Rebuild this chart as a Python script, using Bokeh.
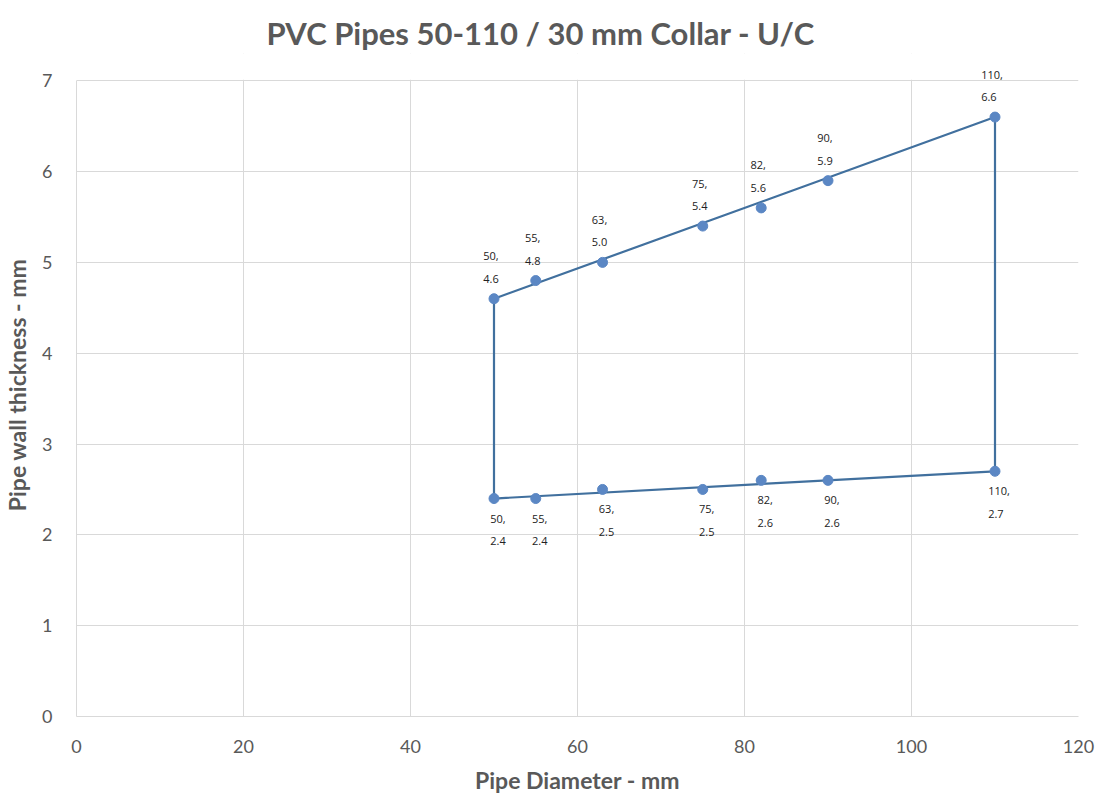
from bokeh.plotting import figure
from bokeh.models import ColumnDataSource, Range1d, FixedTicker, Title, LabelSet, BoxAnnotation
from bokeh.core.properties import value
from bokeh.embed import file_html
from bokeh.resources import INLINE

# Data
diameters = [50, 55, 63, 75, 82, 90, 110]
upper_thickness = [4.6, 4.8, 5.0, 5.4, 5.6, 5.9, 6.6]
lower_thickness = [2.4, 2.4, 2.5, 2.5, 2.6, 2.6, 2.7]
boundary_x = [50, 50, 110, 110, 50]
boundary_y = [2.4, 4.6, 6.6, 2.7, 2.4]
x_ticks = [0, 20, 40, 60, 80, 100, 120]
y_ticks = [0, 1, 2, 3, 4, 5, 6, 7]

FONT = "Lato"
GRAY = "#595959"
Y_MAX = y_ticks[-1]
HEADROOM = 0.3  # room above the axis so the top data label is not clipped

p = figure(
    output_backend="svg", toolbar_location=None,
    frame_width=1002, frame_height=663,
    min_border_left=68, min_border_right=18, min_border_top=53, min_border_bottom=65,
    x_range=Range1d(0, 120), y_range=Range1d(0, Y_MAX + HEADROOM),
    background_fill_color="white", border_fill_color="white",
    outline_line_color=None,
)

t = Title(text="PVC Pipes 50-110 / 30 mm Collar - U/C", align="left",
          text_font=FONT, text_font_size="31px", text_color=GRAY,
          text_font_style="bold", offset=190, standoff=4)
p.add_layout(t, "above")

for ax in (p.xaxis[0], p.yaxis[0]):
    ax.axis_line_color = "#D9D9D9"
    ax.major_tick_line_color = None
    ax.minor_tick_line_color = None
    ax.major_label_text_font = FONT
    ax.major_label_text_font_size = "18px"
    ax.major_label_text_color = GRAY
    ax.axis_label_text_font = FONT
    ax.axis_label_text_font_size = "23px"
    ax.axis_label_text_font_style = "bold"
    ax.axis_label_text_color = GRAY

p.yaxis.bounds = (0, Y_MAX)
p.xaxis.ticker = FixedTicker(ticks=x_ticks)
p.yaxis.ticker = FixedTicker(ticks=y_ticks)
p.xaxis.axis_label = "Pipe Diameter - mm"
p.yaxis.axis_label = "Pipe wall thickness - mm"
p.xaxis.major_label_standoff = 17
p.yaxis.major_label_standoff = 18
p.xaxis.axis_label_standoff = 10
p.yaxis.axis_label_standoff = 8

p.xgrid.grid_line_color = "#D9D9D9"
p.ygrid.grid_line_color = "#D9D9D9"

# mask the grid above the top of the axis
p.add_layout(BoxAnnotation(bottom=Y_MAX + 0.01, fill_color="white", fill_alpha=1.0,
                           line_color=None, level="underlay"))

p.line(boundary_x, boundary_y, line_color="#41709E", line_width=2.2)

def fmt(x, y):
    return f"{x},\n{y:.1f}"

up = ColumnDataSource(dict(x=diameters, y=upper_thickness,
                           lab=[fmt(a, b) for a, b in zip(diameters, upper_thickness)]))
lo = ColumnDataSource(dict(x=diameters, y=lower_thickness,
                           lab=[fmt(a, b) for a, b in zip(diameters, lower_thickness)]))

p.scatter("x", "y", source=up, size=10, marker="circle", fill_color="#5B87C4", line_color="#5B87C4")
p.scatter("x", "y", source=lo, size=10, marker="circle", fill_color="#5B87C4", line_color="#5B87C4")

p.add_layout(LabelSet(x="x", y="y", text="lab", source=up, text_font_size="11px",
                      text_color="#222222", text_align="center", text_baseline="bottom",
                      text_line_height=1.5, y_offset=13, x_offset=-3, text_font=value("Open Sans")))
p.add_layout(LabelSet(x="x", y="y", text="lab", source=lo, text_font_size="11px",
                      text_color="#222222", text_align="center", text_baseline="top",
                      text_line_height=1.5, y_offset=-12, x_offset=4, text_font=value("Open Sans")))

open("out.html", "w").write(file_html(p, INLINE))
